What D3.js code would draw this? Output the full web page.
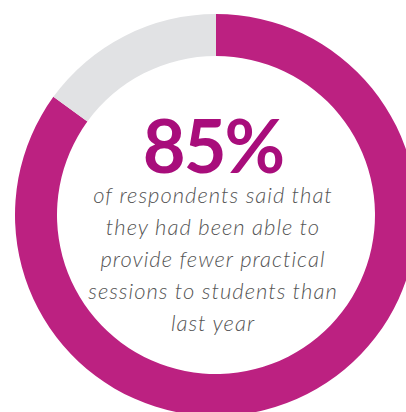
<!DOCTYPE html>
<html>
<head>
<meta charset="utf-8">
<script src="https://cdn.jsdelivr.net/npm/d3@7"></script>
<style>
  html, body { margin: 0; padding: 0; background: #ffffff; }
  svg { display: block; }
</style>
</head>
<body>
<svg id="chart" width="406" height="412"></svg>
<script>
// Survey share shown in the ring
const categories = ["Fewer practical sessions", "Other"];
const values = [85, 15];
const colors = ["#bc2181", "#e1e2e4"];
const headline = "85%";
const captionLines = [
  "of respondents said that",
  "they had been able to",
  "provide fewer practical",
  "sessions to students than",
  "last year"
];

const svg = d3.select("#chart");
const cx = 216, cy = 215;
const outerR = 201, innerR = 159;

const pie = d3.pie().sort(null).value(d => d.value);
const arc = d3.arc().innerRadius(innerR).outerRadius(outerR);
const color = d3.scaleOrdinal().domain(categories).range(colors);

const data = categories.map((c, i) => ({ category: c, value: values[i] }));

const g = svg.append("g").attr("transform", `translate(${cx},${cy})`);

g.selectAll("path.slice")
  .data(pie(data))
  .join("path")
  .attr("class", "slice")
  .attr("d", arc)
  .attr("fill", d => color(d.data.category));

// Headline figure
g.append("text")
  .attr("x", -3)
  .attr("y", -42)
  .attr("text-anchor", "middle")
  .attr("font-family", "Lato, 'Open Sans', sans-serif")
  .attr("font-weight", 700)
  .attr("font-size", 74)
  .attr("letter-spacing", -2)
  .attr("fill", "#a80d7b")
  .text(headline);

// Caption block
const cap = g.append("text")
  .attr("text-anchor", "middle")
  .attr("font-family", "Lato, 'Open Sans', sans-serif")
  .attr("font-weight", 300)
  .attr("font-style", "italic")
  .attr("font-size", 22)
  .attr("letter-spacing", 1)
  .attr("fill", "#555555");

cap.selectAll("tspan")
  .data(captionLines)
  .join("tspan")
  .attr("x", -3)
  .attr("y", (d, i) => -12 + i * 32)
  .text(d => d);
</script>
</body>
</html>
